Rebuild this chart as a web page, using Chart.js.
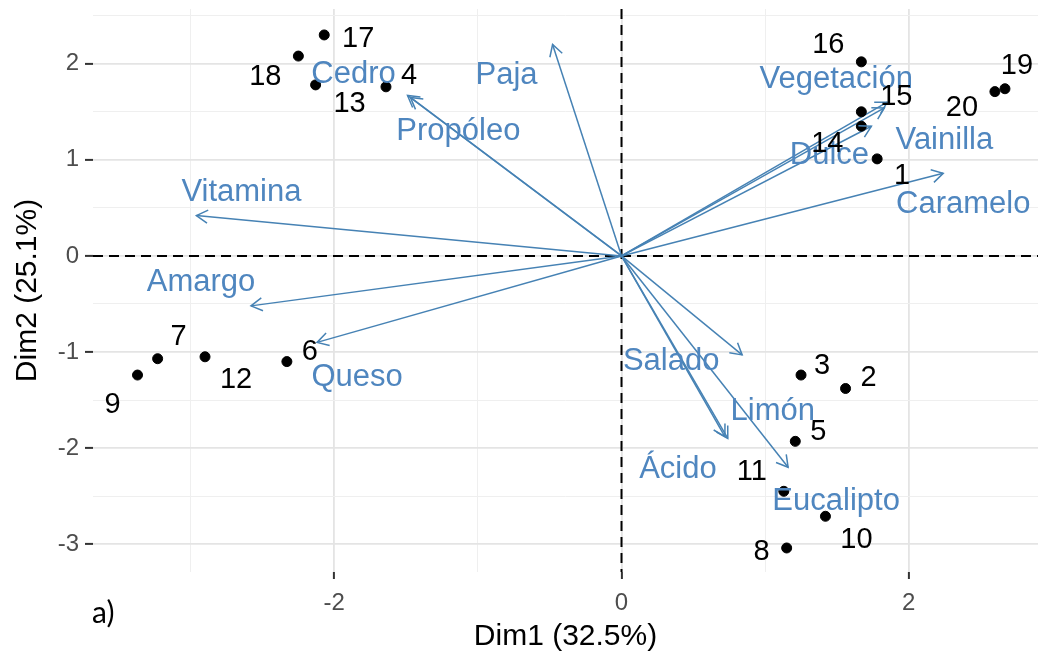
<!DOCTYPE html>
<html>
<head>
<meta charset="utf-8">
<script src="https://cdn.jsdelivr.net/npm/chart.js@4.4.1/dist/chart.umd.min.js"></script>
<style>
  body { margin: 0; background: #fff; }
  #wrap { width: 1038px; height: 661px; position: relative; }
</style>
</head>
<body>
<div id="wrap"><canvas id="biplot"></canvas></div>
<script>
// individuals (rows)
const obsIds = ['1','2','3','4','5','6','7','8','9','10','11','12','13','14','15','16','17','18','19','20'];
const obsDim1 = [1.78, 1.56, 1.25, -1.64, 1.21, -2.33, -3.23, 1.15, -3.37, 1.42, 1.13, -2.90, -2.13, 1.67, 1.67, 1.67, -2.07, -2.25, 2.67, 2.60];
const obsDim2 = [1.01, -1.38, -1.24, 1.76, -1.93, -1.10, -1.07, -3.04, -1.24, -2.71, -2.45, -1.05, 1.78, 1.35, 1.50, 2.02, 2.30, 2.08, 1.74, 1.71];

// variables (arrows)
const varNames = ['Paja', 'Propóleo', 'Cedro', 'Vitamina', 'Amargo', 'Queso', 'Vegetación', 'Vainilla', 'Dulce', 'Caramelo', 'Salado', 'Limón', 'Ácido', 'Eucalipto'];
const varDim1 = [-0.48, -1.47, -1.49, -2.96, -2.58, -2.12, 1.85, 1.83, 1.74, 2.24, 0.84, 0.74, 0.72, 1.16];
const varDim2 = [2.20, 1.65, 1.67, 0.42, -0.52, -0.90, 1.60, 1.54, 1.35, 0.86, -1.03, -1.90, -1.88, -2.20];

// axis breaks
const xMajor = [-2, 0, 2];
const xMinor = [-3, -1, 1];
const yMajor = [-3, -2, -1, 0, 1, 2];
const yMinor = [-2.5, -1.5, -0.5, 0.5, 1.5, 2.5];

// repelled label offsets (px), kept apart from the data
const obsLabelOffset = [[25,17],[23,-10],[21,-9],[23,-11],[23,-9],[23,-10],[21,-22],[-25,4],[-25,30],[31,24],
                        [-32,-19],[31,23],[34,19],[-34,18],[35,-15],[-33,-17],[34,4],[-33,21],[12,-23],[-33,16]];
const varLabelOffset = [[-46,31],[48,34],[-54,-21],[45,-23],[-50,-23],[40,35],[-51,-23],[60,32],[-42,29],[20,31],
                        [-71,7],[45,-27],[-47,33],[48,34]];

const arrowColor = '#4682B4';
const labelBlue = '#4F86BF';
const fontFam = "'Liberation Sans', Arial, sans-serif";

const isMajorX = v => xMajor.includes(v);
const isMajorY = v => yMajor.includes(v);

const datasets = [{
  label: 'ind',
  data: obsDim1.map((x, i) => ({ x: x, y: obsDim2[i] })),
  backgroundColor: '#000',
  borderColor: '#000',
  pointRadius: 5,
  order: 0
}];
varNames.forEach((n, i) => {
  datasets.push({
    label: n,
    data: [{ x: 0, y: 0 }, { x: varDim1[i], y: varDim2[i] }],
    showLine: true,
    borderColor: arrowColor,
    borderWidth: 1.5,
    pointRadius: 0,
    order: 1
  });
});

const biplotExtras = {
  id: 'biplotExtras',
  beforeDatasetsDraw(chart) {
    const { ctx, chartArea: a, scales: { x, y } } = chart;
    ctx.save();
    ctx.strokeStyle = '#000';
    ctx.lineWidth = 2;
    ctx.setLineDash([10, 6]);
    const y0 = y.getPixelForValue(0), x0 = x.getPixelForValue(0);
    ctx.beginPath(); ctx.moveTo(a.left, y0); ctx.lineTo(a.right, y0); ctx.stroke();
    ctx.beginPath(); ctx.moveTo(x0, a.top); ctx.lineTo(x0, a.bottom); ctx.stroke();
    ctx.restore();
  },
  afterDatasetsDraw(chart) {
    const { ctx, scales: { x, y } } = chart;
    ctx.save();
    // arrow heads
    ctx.strokeStyle = arrowColor;
    ctx.lineWidth = 1.5;
    for (let i = 1; i < chart.data.datasets.length; i++) {
      const pts = chart.getDatasetMeta(i).data;
      const p0 = pts[0], p1 = pts[1];
      const ang = Math.atan2(p1.y - p0.y, p1.x - p0.x);
      const len = 13, spread = Math.PI / 6;
      ctx.beginPath();
      ctx.moveTo(p1.x - len * Math.cos(ang - spread), p1.y - len * Math.sin(ang - spread));
      ctx.lineTo(p1.x, p1.y);
      ctx.lineTo(p1.x - len * Math.cos(ang + spread), p1.y - len * Math.sin(ang + spread));
      ctx.stroke();
    }
    ctx.textAlign = 'center';
    ctx.textBaseline = 'middle';
    // variable labels
    ctx.fillStyle = labelBlue;
    ctx.font = '31px ' + fontFam;
    varNames.forEach((n, i) => {
      const px = x.getPixelForValue(varDim1[i]) + varLabelOffset[i][0];
      const py = y.getPixelForValue(varDim2[i]) + varLabelOffset[i][1];
      ctx.fillText(n, px, py);
    });
    // individual labels
    ctx.fillStyle = '#000';
    ctx.font = '29px ' + fontFam;
    obsIds.forEach((n, i) => {
      const px = x.getPixelForValue(obsDim1[i]) + obsLabelOffset[i][0];
      const py = y.getPixelForValue(obsDim2[i]) + obsLabelOffset[i][1];
      ctx.fillText(n, px, py);
    });
    ctx.restore();
  },
  afterDraw(chart) {
    const ctx = chart.ctx;
    ctx.save();
    ctx.fillStyle = '#000';
    ctx.font = "30px Lato, 'Open Sans', sans-serif";
    ctx.textAlign = 'left';
    ctx.textBaseline = 'alphabetic';
    ctx.fillText('a)', 92, 623);
    ctx.restore();
  }
};

new Chart(document.getElementById('biplot'), {
  type: 'scatter',
  data: { datasets: datasets },
  plugins: [biplotExtras],
  options: {
    responsive: true,
    maintainAspectRatio: false,
    animation: false,
    layout: { autoPadding: false, padding: { top: 9, right: 0, left: 0, bottom: 0 } },
    plugins: { legend: { display: false }, tooltip: { enabled: false } },
    scales: {
      x: {
        type: 'linear',
        min: -3.68,
        max: 2.9,
        afterBuildTicks: s => { s.ticks = xMinor.concat(xMajor).sort((a, b) => a - b).map(v => ({ value: v })); },
        afterFit: s => { s.height = 89; s.paddingLeft = 0; s.paddingRight = 0; },
        border: { display: false },
        grid: {
          color: c => isMajorX(c.tick.value) ? '#E4E4E4' : '#EFEFEF',
          lineWidth: c => isMajorX(c.tick.value) ? 1.8 : 1,
          tickColor: c => isMajorX(c.tick.value) ? '#333' : 'rgba(0,0,0,0)',
          tickLength: 7,
          tickWidth: 2
        },
        ticks: {
          autoSkip: false,
          maxRotation: 0,
          padding: 10,
          color: '#4D4D4D',
          font: { family: fontFam, size: 24 },
          callback: v => isMajorX(v) ? String(v) : ''
        },
        title: {
          display: true,
          text: 'Dim1 (32.5%)',
          color: '#000',
          font: { family: fontFam, size: 30 },
          padding: { top: 0, bottom: 6 }
        }
      },
      y: {
        type: 'linear',
        min: -3.29,
        max: 2.57,
        afterBuildTicks: s => { s.ticks = yMinor.concat(yMajor).sort((a, b) => a - b).map(v => ({ value: v })); },
        afterFit: s => { s.width = 93; s.paddingTop = 0; s.paddingBottom = 0; },
        border: { display: false },
        grid: {
          color: c => isMajorY(c.tick.value) ? '#E4E4E4' : '#EFEFEF',
          lineWidth: c => isMajorY(c.tick.value) ? 1.8 : 1,
          tickColor: c => isMajorY(c.tick.value) ? '#333' : 'rgba(0,0,0,0)',
          tickLength: 8,
          tickWidth: 2
        },
        ticks: {
          autoSkip: false,
          padding: 6,
          color: '#4D4D4D',
          font: { family: fontFam, size: 24 },
          callback: v => isMajorY(v) ? String(v) : ''
        },
        title: {
          display: true,
          text: 'Dim2 (25.1%)',
          color: '#000',
          font: { family: fontFam, size: 30 },
          padding: { top: 10, bottom: 0 }
        }
      }
    }
  }
});
</script>
</body>
</html>
